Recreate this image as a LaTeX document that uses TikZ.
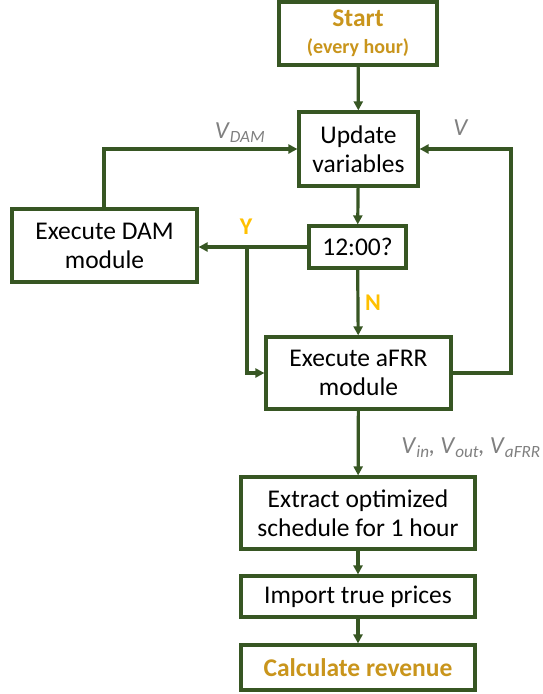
\documentclass[tikz,border=0pt]{standalone}
\usepackage{fontspec}
\setmainfont{Carlito}
\usetikzlibrary{arrows.meta}
\definecolor{boxgreen}{HTML}{375623}
\definecolor{gold}{HTML}{C9951C}
\definecolor{yes}{HTML}{FFC000}
\definecolor{lbl}{HTML}{808080}
\newcommand\vsub[2]{\textit{#1}\textsubscript{\textit{#2}}}
\tikzset{
  x=1pt, y=-1pt,
  stepbox/.style={draw=boxgreen, line width=3.2pt, fill=white, align=center,
    inner sep=0pt, font=\fontsize{25.5}{29}\selectfont},
  flow/.style={draw=boxgreen, line width=3.2pt,
    -{Triangle[length=9pt,width=9pt]}},
  varlbl/.style={text=lbl, inner sep=0pt, font=\fontsize{24.5}{29}\selectfont},
  yn/.style={text=yes, font=\bfseries\fontsize{24}{27}\selectfont}
}
\begin{document}
\begin{tikzpicture}
\useasboundingbox (0,0) rectangle (543,694);

% process boxes
\node[stepbox, minimum width=158pt, minimum height=63pt] (start) at (358,33.5)
  {\textcolor{gold}{\textbf{Start}}\\[-2pt]\textcolor{gold}{\fontsize{20}{22}\selectfont\textbf{(every hour)}}};
\node[stepbox, minimum width=119pt, minimum height=74pt] (upd) at (358.5,149) {Update\\variables};
\node[stepbox, minimum width=185pt, minimum height=73pt] (dam) at (104.5,245.5) {Execute DAM\\module};
\node[stepbox, minimum width=97pt, minimum height=42pt] (noon) at (357.5,247) {12:00?};
\node[stepbox, minimum width=185pt, minimum height=72pt] (afrr) at (358.5,373) {Execute aFRR\\module};
\node[stepbox, minimum width=234pt, minimum height=72pt] (extr) at (358,513) {Extract optimized\\schedule for 1 hour};
\node[stepbox, minimum width=234pt, minimum height=41pt] (imp) at (358,596.5) {Import true prices};
\node[stepbox, minimum width=234pt, minimum height=45pt] (rev) at (358,667.5)
  {\textcolor{gold}{\textbf{Calculate revenue}}};

% helper points for the bends
\coordinate (damup) at (104,149);
\coordinate (rback) at (511,373);
\coordinate (rtop) at (511,149);
\coordinate (split) at (247,246);
\coordinate (splitdn) at (247,373);

% main flow
\draw[flow] (start) -- (upd);
\draw[flow] (upd) -- (noon);
\draw[flow] (noon) -- (afrr);
\draw[flow] (afrr) -- (extr);
\draw[flow] (extr) -- (imp);
\draw[flow] (imp) -- (rev);

% feedback loops into the variable update
\draw[flow] (dam.north -| damup) -- (damup) -- (upd.west);
\draw[flow] (afrr.east) -- (rback) -- (rtop) -- (upd.east);

% decision branches
\draw[flow] (noon.west) -- (dam.east |- noon.west);
\draw[flow] (split) -- (splitdn) -- (afrr.west);

% labels
\node[varlbl] (ldam) at (240,133) {\vsub{V}{DAM}};
\node[varlbl] (lv) at (461,128) {\textit{V}};
\node[varlbl, anchor=east] (lvout) at (541,448)
  {\vsub{V}{in}\kern-1pt, \vsub{V}{out}\kern-1pt, \vsub{V}{aFRR}};
\node[yn] (ly) at (246,227) {Y};
\node[yn] (ln) at (373,303) {N};
\end{tikzpicture}
\end{document}
